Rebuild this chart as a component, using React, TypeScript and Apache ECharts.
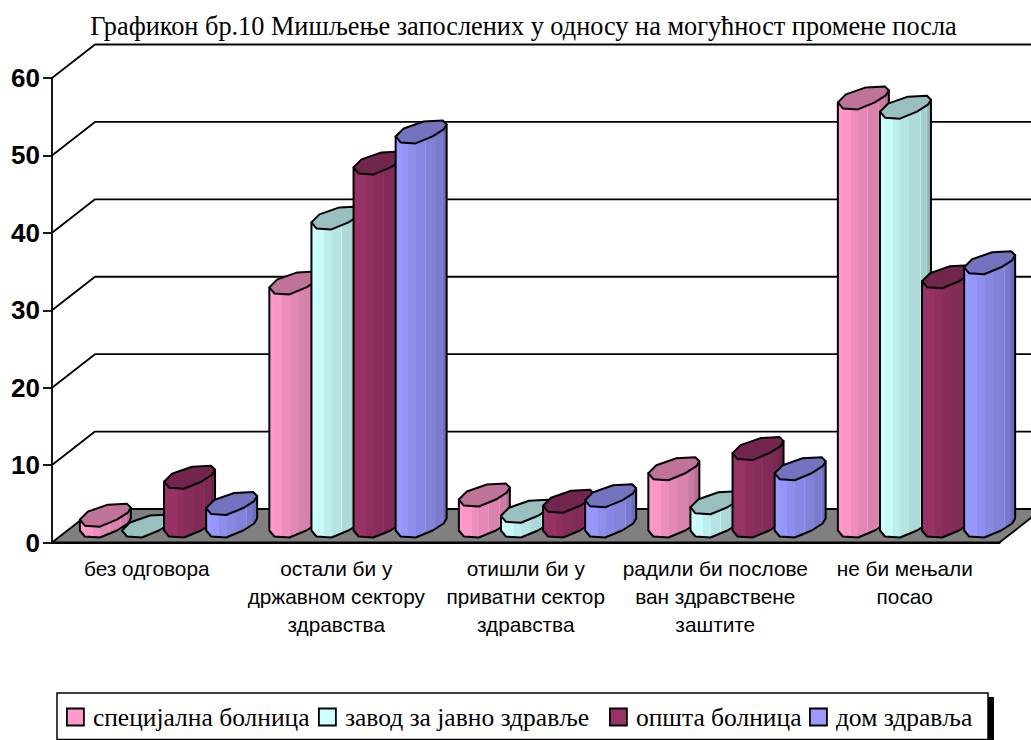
import React, { useEffect, useRef } from "react";
import * as echarts from "echarts";

const titleText = "Графикон бр.10 Мишљење запослених у односу на могућност промене посла";
const categories = [
  "без одговора",
  "остали би у\nдржавном сектору\nздравства",
  "отишли би у\nприватни сектор\nздравства",
  "радили би послове\nван здравствене\nзаштите",
  "не би мењали\nпосао",
];
const specialHospital = [1.4, 31.4, 4.0, 7.4, 55.3];
const publicHealth = [0, 39.8, 1.9, 3.0, 54.1];
const generalHospital = [6.3, 46.9, 3.2, 10.0, 32.2];
const healthCentre = [2.9, 50.9, 3.9, 7.4, 34.0];
const seriesNames = ["специјална болница", "завод за јавно здравље", "општа болница", "дом здравља"];
const seriesValues = [specialHospital, publicHealth, generalHospital, healthCentre];
const seriesColors = ["#FF99CC", "#CCFFFF", "#993366", "#9999FF"];
const ticks = [0, 10, 20, 30, 40, 50, 60];
const legendLefts = [61, 313, 604, 804];

const DEPTH_X = 43;
const DEPTH_Y = 33.5;
const BAR_STEP = 42.1;
const BAR_START = 66.9;
const BASE_LIFT = 12;
const CAP: number[][] = [
  [0, 0], [8, -8], [28, -15], [47, -16], [51, -12], [48, -7], [37, 0], [20, 7], [5, 6],
];
const UNDER: number[][] = [[51, -12], [48, -7], [37, 0], [20, 7], [5, 6], [0, 0]];
const FACETS: number[][] = [
  [0, 1], [0.1, 0.98], [0.25, 0.93], [0.4, 0.89], [0.57, 0.86], [0.58, 0.95], [0.59, 0.85],
  [0.78, 0.82], [0.79, 0.92], [0.8, 0.8], [0.9, 0.76], [0.91, 0.85], [0.92, 0.72],
];

function shade(hex: string, k: number) {
  const n = parseInt(hex.slice(1), 16);
  const c = [(n >> 16) & 255, (n >> 8) & 255, n & 255].map((v) => Math.round(v * k));
  return `rgb(${c[0]},${c[1]},${c[2]})`;
}
function bodyFill(hex: string) {
  const colorStops: { offset: number; color: string }[] = [];
  FACETS.forEach(([p, k], i) => {
    const end = i + 1 < FACETS.length ? FACETS[i + 1][0] : 1;
    colorStops.push({ offset: p, color: shade(hex, k) }, { offset: end, color: shade(hex, k) });
  });
  return new echarts.graphic.LinearGradient(0, 0, 1, 0, colorStops);
}

const edge = { stroke: "#000", lineWidth: 2, lineJoin: "round" };

function barRenderer(seriesIndex: number) {
  const color = seriesColors[seriesIndex];
  return (_p: any, api: any) => {
    const c = api.value(0);
    const base = api.coord([c, 0]);
    const top = api.coord([c, api.value(1)]);
    const left = base[0] - BAR_START + BAR_STEP * seriesIndex;
    const yTop = top[1] - BASE_LIFT;
    const yBase = base[1] - BASE_LIFT;
    const children: any[] = [];
    if (yBase - yTop > 0.5) {
      const pts = [[left, yTop], [left + 51, yTop - 12]].concat(
        UNDER.map(([x, y]) => [left + x, yBase + y])
      );
      children.push({
        type: "polygon",
        shape: { points: pts },
        style: { fill: bodyFill(color), ...edge },
      });
    }
    children.push({
      type: "polygon",
      shape: { points: CAP.map(([x, y]) => [left + x, yTop + y]) },
      style: { fill: shade(color, 0.75), ...edge },
    });
    return { type: "group", children };
  };
}

function wallRenderer(p: any, api: any) {
  const g = p.coordSys;
  const y = api.coord([0, api.value(1)])[1];
  const left = g.x;
  const right = g.x + g.width;
  const line = { stroke: "#000", lineWidth: 1.8, lineJoin: "round" };
  if (api.value(1) === 0) {
    return {
      type: "polygon",
      shape: {
        points: [[left, y], [left + DEPTH_X, y - DEPTH_Y], [right + DEPTH_X, y - DEPTH_Y], [right, y]],
      },
      style: { fill: "#808080", ...line },
    };
  }
  return {
    type: "polyline",
    shape: { points: [[left, y], [left + DEPTH_X, y - DEPTH_Y], [right + DEPTH_X, y - DEPTH_Y]] },
    style: { fill: "none", ...line },
  };
}

export default function App() {
  const ref = useRef<HTMLDivElement>(null);
  useEffect(() => {
    const chart = echarts.init(ref.current!, undefined, { renderer: "svg" });
    chart.setOption({
      animation: false,
      backgroundColor: "#fff",
      title: {
        text: titleText,
        left: 518.5,
        top: 8,
        textAlign: "center",
        textStyle: { fontFamily: "Liberation Serif", fontSize: 26.3, fontWeight: "normal", color: "#000" },
      },
      grid: { left: 52, top: 78, width: 947.5, height: 464.5, containLabel: false },
      xAxis: {
        type: "category",
        data: categories,
        axisLine: { lineStyle: { color: "#000", width: 2 } },
        axisTick: { length: 9, alignWithLabel: false, lineStyle: { color: "#000", width: 1.8 } },
        axisLabel: {
          interval: 0,
          margin: 12,
          color: "#000",
          fontFamily: "Liberation Sans",
          fontSize: 20.8,
          lineHeight: 28,
        },
      },
      yAxis: {
        type: "value",
        min: 0,
        max: 60,
        interval: 10,
        splitLine: { show: false },
        axisLine: { show: true, lineStyle: { color: "#000", width: 1.8 } },
        axisTick: { show: true, length: 9, lineStyle: { color: "#000", width: 1.8 } },
        axisLabel: {
          margin: 12,
          color: "#000",
          fontFamily: "Liberation Sans",
          fontWeight: "bold",
          fontSize: 26,
        },
      },
      legend: seriesNames.map((name, i) => ({
        data: [name],
        left: legendLefts[i],
        top: 699,
        padding: 5,
        itemWidth: 17,
        itemHeight: 17,
        icon: "rect",
        itemStyle: { borderColor: "#000", borderWidth: 1.8 },
        textStyle: { fontFamily: "Liberation Serif", fontSize: 25.5, color: "#000", padding: [0, 0, 0, 4] },
      })),
      graphic: [
        { type: "rect", z: 0, shape: { x: 988, y: 697, width: 6, height: 43 }, style: { fill: "#000" } },
        {
          type: "rect",
          z: 1,
          shape: { x: 57, y: 693, width: 931, height: 46.5 },
          style: { fill: "#fff", stroke: "#000", lineWidth: 1.5 },
        },
      ],
      series: [
        {
          type: "custom",
          name: "стене",
          z: 1,
          clip: false,
          silent: true,
          renderItem: wallRenderer,
          data: ticks.map((t) => [0, t]),
        },
        ...seriesNames.map((name, s) => ({
          type: "custom",
          name,
          z: 3 + s,
          clip: false,
          itemStyle: { color: seriesColors[s] },
          renderItem: barRenderer(s),
          data: seriesValues[s].map((v, c) => [c, v]),
        })),
      ],
    });
    return () => chart.dispose();
  }, []);
  return <div ref={ref} style={{ position: "absolute", left: 0, top: 0, width: 1031, height: 740 }} />;
}
